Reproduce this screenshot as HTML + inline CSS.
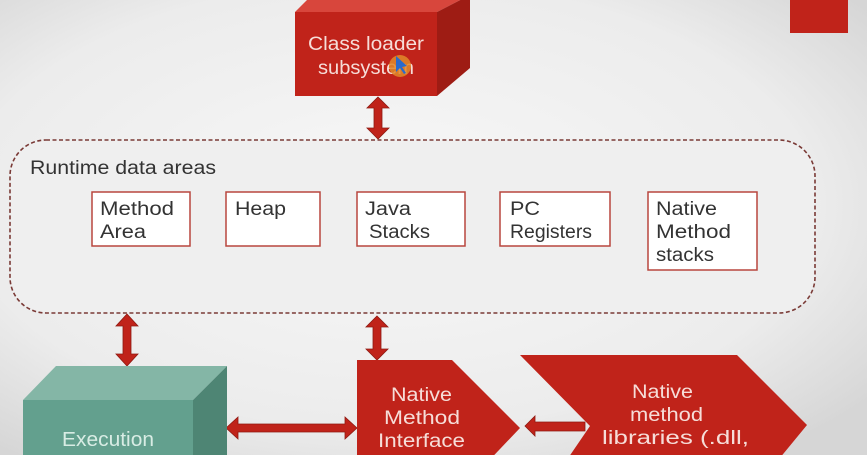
<!DOCTYPE html>
<html><head><style>
body{margin:0;width:867px;height:455px;overflow:hidden;}
svg{display:block}
text{font-family:"Liberation Sans",sans-serif;}
</style></head><body>
<svg width="867" height="455" viewBox="0 0 867 455">
<defs>
<radialGradient id="bg" cx="0.45" cy="0.45" r="0.7">
<stop offset="0" stop-color="#f8f8f8"/><stop offset="0.7" stop-color="#ececec"/><stop offset="1" stop-color="#d6d6d6"/>
</radialGradient>
</defs>
<rect width="867" height="455" fill="url(#bg)"/>
<rect x="790" y="0" width="58" height="33" fill="#c0231a"/>
<polygon points="295,12 312,-5 470,-5 437,12" fill="#d8463c"/>
<polygon points="437,12 470,-5 470,68 437,96" fill="#9e1c14"/>
<rect x="295" y="12" width="142" height="84" fill="#c0231a"/>
<g font-size="19" fill="#f6ddd8">
<text x="308" y="50" textLength="116" lengthAdjust="spacingAndGlyphs">Class loader</text>
<text x="318" y="74" textLength="96" lengthAdjust="spacingAndGlyphs">subsystem</text>
</g>
<circle cx="400" cy="66" r="11" fill="#e08a2a" opacity="0.85"/>
<polygon points="396,56 396,72 400,68 404,74 406,73 402,67 407,66" fill="#2a6acc"/>
<rect x="10" y="140" width="805" height="173" rx="36" fill="#efefef" stroke="#7a3a36" stroke-width="1.6" stroke-dasharray="4,2.5"/>
<text x="30" y="174" font-size="19" fill="#333" textLength="186" lengthAdjust="spacingAndGlyphs">Runtime data areas</text>
<g fill="#fff" stroke="#b8463e" stroke-width="1.5">
<rect x="92" y="192" width="98" height="54"/>
<rect x="226" y="192" width="94" height="54"/>
<rect x="357" y="192" width="108" height="54"/>
<rect x="500" y="192" width="110" height="54"/>
<rect x="648" y="192" width="109" height="78"/>
</g>
<g font-size="19" fill="#333">
<text x="100" y="215" textLength="74" lengthAdjust="spacingAndGlyphs">Method</text><text x="100" y="238" textLength="46" lengthAdjust="spacingAndGlyphs">Area</text>
<text x="235" y="215" textLength="51" lengthAdjust="spacingAndGlyphs">Heap</text>
<text x="365" y="215" textLength="46" lengthAdjust="spacingAndGlyphs">Java</text><text x="369" y="238" textLength="61" lengthAdjust="spacingAndGlyphs">Stacks</text>
<text x="510" y="215" textLength="30" lengthAdjust="spacingAndGlyphs">PC</text><text x="510" y="238" textLength="82" lengthAdjust="spacingAndGlyphs">Registers</text>
<text x="656" y="215" textLength="61" lengthAdjust="spacingAndGlyphs">Native</text><text x="656" y="238" textLength="75" lengthAdjust="spacingAndGlyphs">Method</text><text x="656" y="261" textLength="58" lengthAdjust="spacingAndGlyphs">stacks</text>
</g>
<g fill="#c0231a" stroke="#8e1a12" stroke-width="0.8">
<polygon points="378,97 389,108 382,108 382,128 389,128 378,139 367,128 374,128 374,108 367,108"/>
<polygon points="127,314 138,326 131,326 131,354 138,354 127,366 116,354 123,354 123,326 116,326"/>
<polygon points="377,316 388,327 381,327 381,349 388,349 377,360 366,349 373,349 373,327 366,327"/>
<polygon points="226,428 238,417 238,424 345,424 345,417 357,428 345,439 345,432 238,432 238,439"/>
<polygon points="525,426 535,416 535,422 585,422 585,431 535,431 535,436"/>
</g>
<polygon points="23,400 56,366 227,366 193,400" fill="#84b6a6"/>
<polygon points="193,400 227,366 227,455 193,455" fill="#4e8574"/>
<rect x="23" y="400" width="170" height="60" fill="#63a08e"/>
<text x="62" y="446" font-size="20" fill="#d8ece4" textLength="92" lengthAdjust="spacingAndGlyphs">Execution</text>
<polygon points="357,360 452,360 520,428 480,470 357,470" fill="#c0231a"/>
<g font-size="19" fill="#f6ddd8">
<text x="391" y="401" textLength="61" lengthAdjust="spacingAndGlyphs">Native</text>
<text x="384" y="424" textLength="76" lengthAdjust="spacingAndGlyphs">Method</text>
<text x="378" y="447" textLength="87" lengthAdjust="spacingAndGlyphs">Interface</text>
</g>
<polygon points="520,355 737,355 807,425 770,470 560,470 590,426" fill="#c0231a"/>
<g font-size="19" fill="#f6ddd8">
<text x="632" y="398" textLength="61" lengthAdjust="spacingAndGlyphs">Native</text>
<text x="630" y="421" textLength="73" lengthAdjust="spacingAndGlyphs">method</text>
<text x="602" y="444" textLength="147" lengthAdjust="spacingAndGlyphs">libraries (.dll,</text>
</g>
</svg>
</body></html>
